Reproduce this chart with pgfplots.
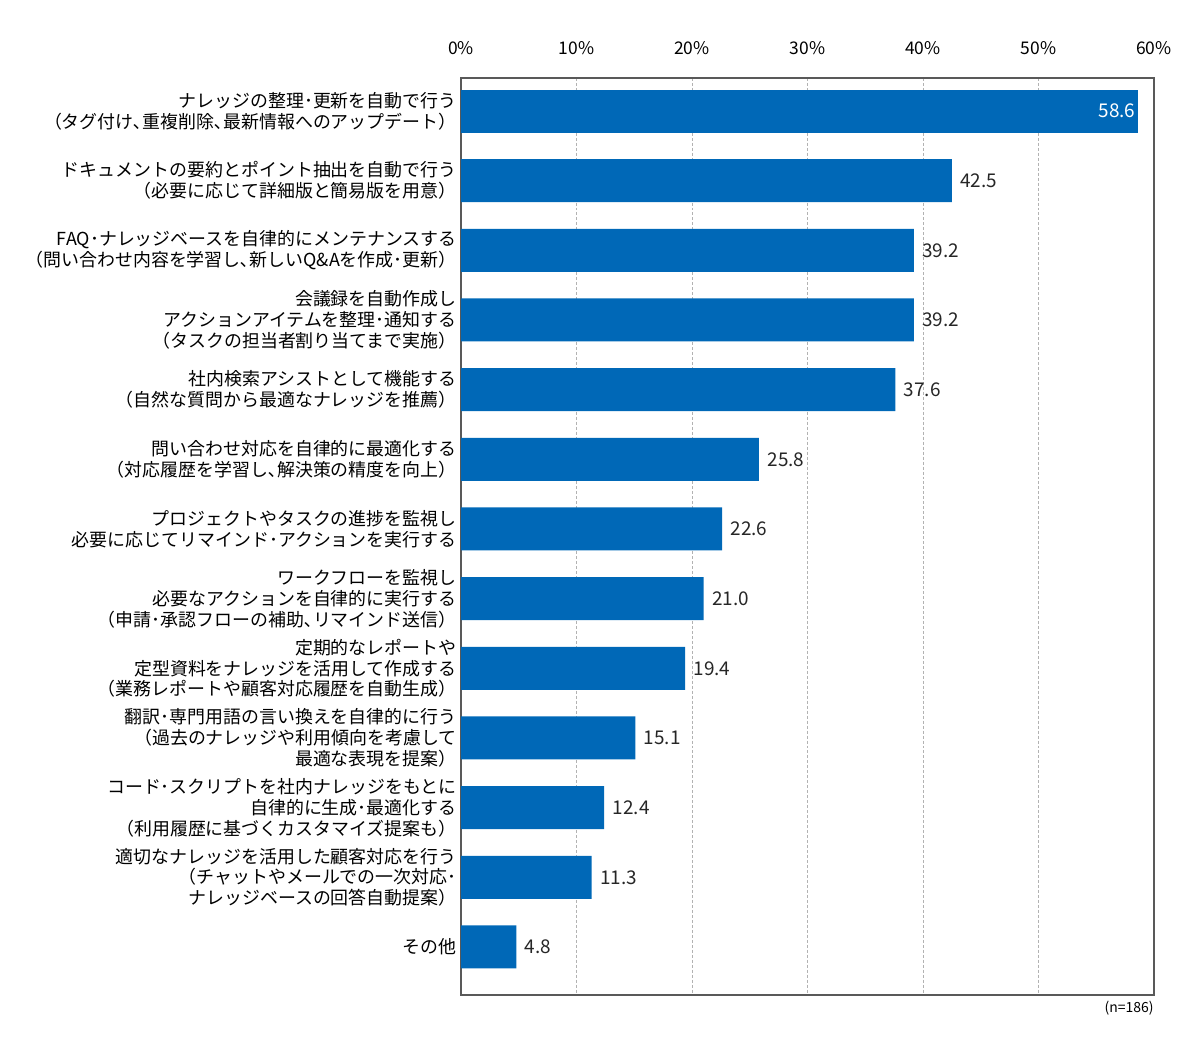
\documentclass[border=0pt]{standalone}
\usepackage{pgfplots}
\pgfplotsset{compat=1.18}
\usepackage{fontspec}
\setmainfont{Noto Sans CJK JP}
\definecolor{barblue}{HTML}{0068B7}
\begin{document}
\begin{tikzpicture}[x=1bp,y=1bp]
\useasboundingbox (0,0) rectangle (1200,1040);
\begin{axis}[
  at={(461bp,45bp)}, anchor=south west,
  scale only axis, width=693bp, height=917bp,
  xbar, bar width=43bp, bar shift=0pt,
  xmin=0, xmax=60, ymin=-0.474, ymax=12.69, y dir=reverse,
  /pgf/number format/assume math mode=true,
  xtick={0,10,...,60},
  xticklabel={\pgfmathprintnumber{\tick}\%},
  xticklabel pos=upper,
  xticklabel style={font=\fontsize{17.5}{20}\selectfont, yshift=20bp},
  ytick={0,...,12},
  yticklabels={
    {ナレッジの整理･更新を自動で行う\\（タグ付け､重複削除､最新情報へのアップデート）},
    {ドキュメントの要約とポイント抽出を自動で行う\\（必要に応じて詳細版と簡易版を用意）},
    {FAQ･ナレッジベースを自律的にメンテナンスする\\（問い合わせ内容を学習し､新しいQ\&Aを作成･更新）},
    {会議録を自動作成し\\アクションアイテムを整理･通知する\\（タスクの担当者割り当てまで実施）},
    {社内検索アシストとして機能する\\（自然な質問から最適なナレッジを推薦）},
    {問い合わせ対応を自律的に最適化する\\（対応履歴を学習し､解決策の精度を向上）},
    {プロジェクトやタスクの進捗を監視し\\必要に応じてリマインド･アクションを実行する},
    {ワークフローを監視し\\必要なアクションを自律的に実行する\\（申請･承認フローの補助､リマインド送信）},
    {定期的なレポートや\\定型資料をナレッジを活用して作成する\\（業務レポートや顧客対応履歴を自動生成）},
    {翻訳･専門用語の言い換えを自律的に行う\\（過去のナレッジや利用傾向を考慮して\\最適な表現を提案）},
    {コード･スクリプトを社内ナレッジをもとに\\自律的に生成･最適化する\\（利用履歴に基づくカスタマイズ提案も）},
    {適切なナレッジを活用した顧客対応を行う\\（チャットやメールでの一次対応･\\ナレッジベースの回答自動提案）},
    {その他}
  },
  yticklabel style={font=\fontsize{18}{21}\selectfont, align=right, xshift=-1bp},
  major tick length=0pt,
  xmajorgrids, grid style={densely dashed, gray!60},
  axis line style={black!65, line width=1.2bp},
  nodes near coords={\pgfmathprintnumber[fixed,fixed zerofill,precision=1]{\pgfplotspointmeta}},
  nodes near coords align=horizontal,
  every node near coord/.append style={font=\fontsize{19}{21}\selectfont, text=black!85, xshift=5bp},
  clip=false,
]
\addplot[fill=barblue, draw=none,
  every node near coord/.append style={anchor=east, text=white, xshift=-4bp}]
  coordinates {(58.6,0)};
\addplot[fill=barblue, draw=none] coordinates {
  (42.5,1) (39.2,2) (39.2,3) (37.6,4) (25.8,5) (22.6,6) (21.0,7)
  (19.4,8) (15.1,9) (12.4,10) (11.3,11) (4.8,12)};
\end{axis}
\node[anchor=east, font=\fontsize{14}{16}\selectfont] at (1157,32) {(n=186)};
\end{tikzpicture}
\end{document}
